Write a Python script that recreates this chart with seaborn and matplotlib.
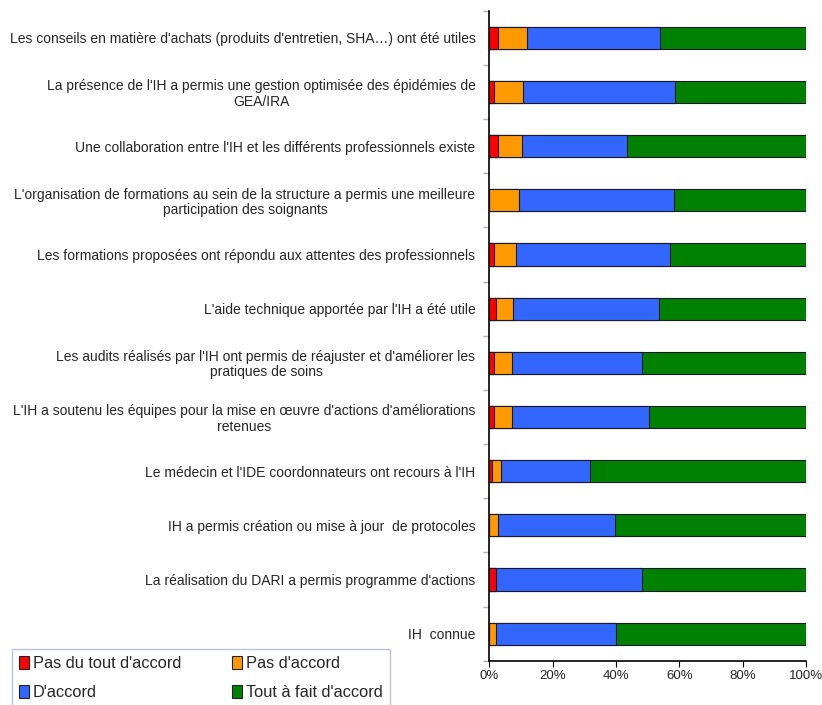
import matplotlib
matplotlib.use("Agg")
import matplotlib.pyplot as plt
from matplotlib.patches import Patch
from matplotlib.ticker import PercentFormatter
import numpy as np
import pandas as pd
import seaborn as sns

questions = [
    "Les conseils en matière d'achats (produits d'entretien, SHA…) ont été utiles",
    "La présence de l'IH a permis une gestion optimisée des épidémies de\nGEA/IRA",
    "Une collaboration entre l'IH et les différents professionnels existe",
    "L'organisation de formations au sein de la structure a permis une meilleure\nparticipation des soignants",
    "Les formations proposées ont répondu aux attentes des professionnels",
    "L'aide technique apportée par l'IH a été utile",
    "Les audits réalisés par l'IH ont permis de réajuster et d'améliorer les\npratiques de soins",
    "L'IH a soutenu les équipes pour la mise en œuvre d'actions d'améliorations\nretenues",
    "Le médecin et l'IDE coordonnateurs ont recours à l'IH",
    "IH a permis création ou mise à jour  de protocoles",
    "La réalisation du DARI a permis programme d'actions",
    "IH  connue",
]
series_names = ["Pas du tout d'accord", "Pas d'accord", "D'accord", "Tout à fait d'accord"]
pas_du_tout = [2.8, 1.6, 2.6, 0.0, 1.4, 2.1, 1.5, 1.5, 0.7, 0.0, 2.2, 0.0]
pas_accord = [9.2, 9.0, 7.7, 9.3, 6.9, 5.5, 5.8, 5.8, 3.0, 2.8, 0.0, 2.1]
accord = [42.0, 48.1, 33.3, 48.9, 48.7, 46.0, 41.0, 43.1, 28.0, 36.8, 46.1, 38.0]
tout_a_fait = [46.0, 41.3, 56.4, 41.8, 43.0, 46.4, 51.7, 49.6, 68.3, 60.4, 51.7, 59.9]
colors = ["#FF0000", "#FF9900", "#3366FF", "#008000"]

sns.set_style("white")
plt.rcParams["font.family"] = ["Liberation Sans", "DejaVu Sans"]

df = pd.DataFrame({"question": questions})
vals = np.array([pas_du_tout, pas_accord, accord, tout_a_fait])
vals = vals / vals.sum(axis=0)  # normalise to 100 %
cums = np.cumsum(vals, axis=0)
for i, name in enumerate(series_names):
    df[name] = cums[i]

fig = plt.figure(figsize=(8.22, 7.05), dpi=100)
ax = fig.add_axes([0.5953, 0.0628, 0.9805 - 0.5953, 0.9848 - 0.0628])

for i in range(3, -1, -1):
    sns.barplot(data=df, x=series_names[i], y="question", order=questions,
                color=colors[i], saturation=1, width=0.41, orient="h",
                edgecolor="#1a1a2a", linewidth=0.8, ax=ax)

ax.set_xlim(0, 1)
ax.set_ylim(11.5, -0.5)
ax.set_xlabel("")
ax.set_ylabel("")
ax.set_xticks(np.arange(0, 1.01, 0.2))
ax.xaxis.set_major_formatter(PercentFormatter(1.0, decimals=0))
ax.tick_params(axis="x", direction="out", length=4, width=0.8, color="#000000",
               labelsize=9.5, pad=3, bottom=True)
ax.tick_params(axis="y", which="major", length=0, labelsize=10.0, pad=10)
ax.set_yticks(np.arange(-0.5, 12, 1), minor=True)
ax.tick_params(axis="y", which="minor", length=4, color="#b0b0b0", width=1, left=True)
for lab in ax.get_yticklabels():
    lab.set_multialignment("center")
    lab.set_linespacing(1.1)

for s in ["top", "right"]:
    ax.spines[s].set_visible(False)
ax.spines["left"].set_color("#000000")
ax.spines["bottom"].set_color("#000000")
ax.spines["left"].set_linewidth(1.2)
ax.spines["bottom"].set_linewidth(1.2)

# legend filled column-wise: reorder so rows read red/orange then blue/green
order = [0, 2, 1, 3]
handles = [Patch(facecolor=colors[k], edgecolor="#222222", linewidth=0.8) for k in order]
labels = [series_names[k] for k in order]
leg = fig.legend(handles, labels, loc="upper left", ncol=2, mode="expand",
                 bbox_to_anchor=(0.0142, 0.0795, 0.46, 0), bbox_transform=fig.transFigure,
                 frameon=True, fancybox=False, handlelength=0.6, handleheight=0.8,
                 handletextpad=0.25, columnspacing=2.6, labelspacing=0.85,
                 borderpad=0.45, borderaxespad=0,
                 prop={"size": 11.8})
leg.get_frame().set_edgecolor("#a8b4d0")
leg.get_frame().set_linewidth(1.0)

fig.savefig("out.png", dpi=100)
